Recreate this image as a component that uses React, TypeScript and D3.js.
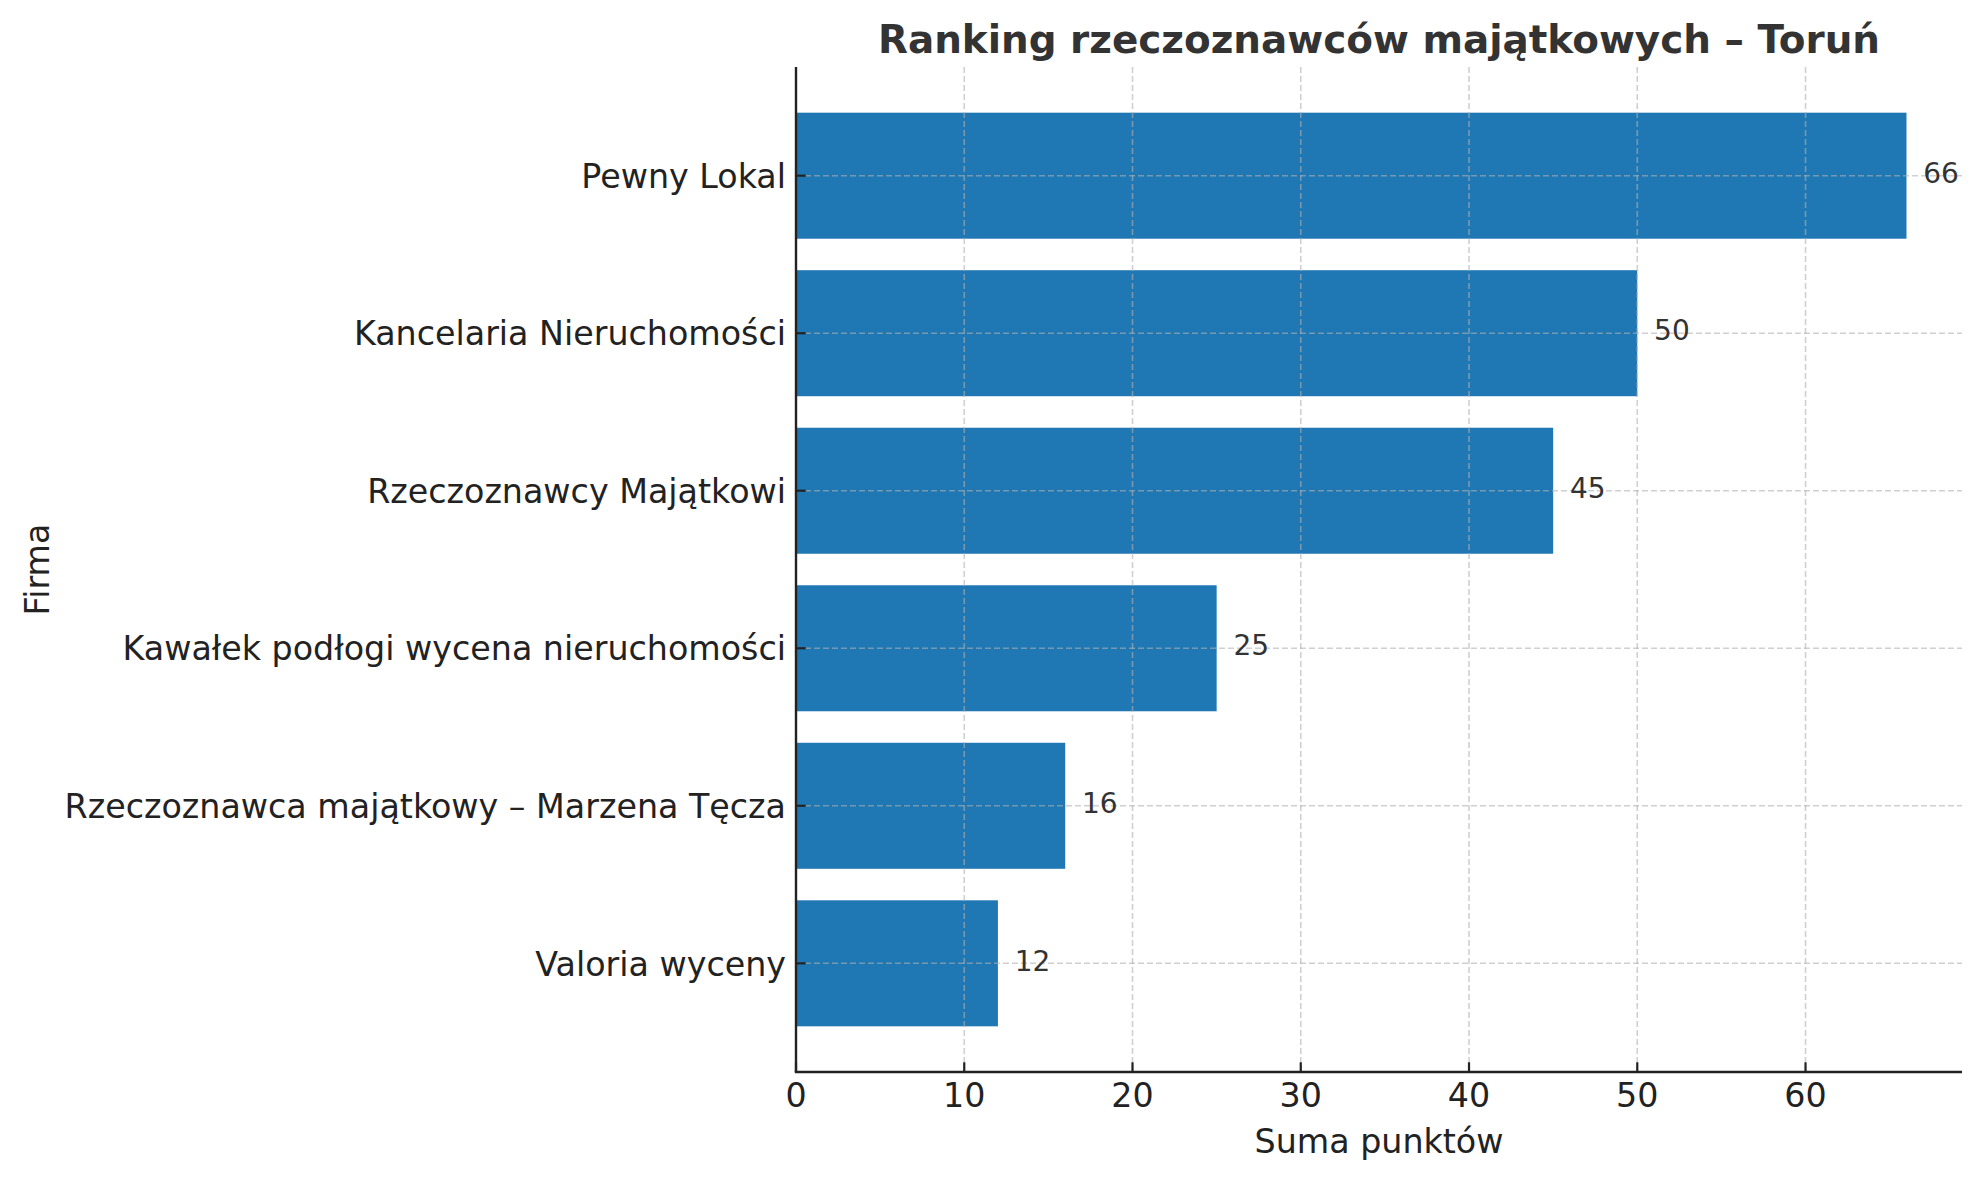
import * as d3 from "d3";
import { useEffect, useRef } from "react";

const firms = [
  "Pewny Lokal",
  "Kancelaria Nieruchomości",
  "Rzeczoznawcy Majątkowi",
  "Kawałek podłogi wycena nieruchomości",
  "Rzeczoznawca majątkowy – Marzena Tęcza",
  "Valoria wyceny",
];
const points = [66, 50, 45, 25, 16, 12];
const xTicks = [0, 10, 20, 30, 40, 50, 60];

const title = "Ranking rzeczoznawców majątkowych – Toruń";
const xLabel = "Suma punktów";
const yLabel = "Firma";

const App = () => {
  const ref = useRef<SVGSVGElement | null>(null);

  useEffect(() => {
    if (!ref.current) return;
    document.body.style.margin = "0";

    const svg = d3.select(ref.current);
    svg.selectAll("*").remove();

    const width = 1980;
    const height = 1180;
    const margin = { top: 67, right: 18, bottom: 108, left: 796 };
    const font = "DejaVu Sans, sans-serif";

    svg.attr("width", width).attr("height", height).style("background", "#fff");

    const maxVal = d3.max(points)!;
    const x = d3
      .scaleLinear()
      .domain([0, maxVal * 1.05])
      .range([margin.left, width - margin.right]);

    const y = d3
      .scaleBand<string>()
      .domain(firms)
      .range([margin.top, height - margin.bottom])
      .paddingInner(0.2)
      .paddingOuter(0.29);

    const data = firms.map((f, i) => ({ firm: f, value: points[i] }));
    const yBottom = height - margin.bottom;
    const yTop = margin.top;

    // Bars
    svg
      .append("g")
      .selectAll("rect")
      .data(data)
      .enter()
      .append("rect")
      .attr("x", x(0))
      .attr("y", (d) => y(d.firm)!)
      .attr("width", (d) => x(d.value) - x(0))
      .attr("height", y.bandwidth())
      .attr("fill", "#1f77b4");

    // Grid (above bars, like matplotlib)
    const grid = svg
      .append("g")
      .attr("stroke", "#b0b0b0")
      .attr("stroke-opacity", 0.6)
      .attr("stroke-width", 1.6)
      .attr("stroke-dasharray", "6,3");

    grid
      .selectAll("line.vgrid")
      .data(xTicks)
      .enter()
      .append("line")
      .attr("class", "vgrid")
      .attr("x1", (d) => x(d))
      .attr("x2", (d) => x(d))
      .attr("y1", yTop)
      .attr("y2", yBottom);

    grid
      .selectAll("line.hgrid")
      .data(firms)
      .enter()
      .append("line")
      .attr("class", "hgrid")
      .attr("x1", x.range()[0])
      .attr("x2", x.range()[1])
      .attr("y1", (d) => y(d)! + y.bandwidth() / 2)
      .attr("y2", (d) => y(d)! + y.bandwidth() / 2);

    // Spines
    svg
      .append("line")
      .attr("x1", x.range()[0])
      .attr("x2", x.range()[0])
      .attr("y1", yTop)
      .attr("y2", yBottom)
      .attr("stroke", "#222")
      .attr("stroke-width", 2.4);
    svg
      .append("line")
      .attr("x1", x.range()[0] - 1.2)
      .attr("x2", x.range()[1])
      .attr("y1", yBottom)
      .attr("y2", yBottom)
      .attr("stroke", "#222")
      .attr("stroke-width", 2.4);

    // X ticks (inward) and labels
    const xAxis = svg.append("g");
    xAxis
      .selectAll("line")
      .data(xTicks)
      .enter()
      .append("line")
      .attr("x1", (d) => x(d))
      .attr("x2", (d) => x(d))
      .attr("y1", yBottom)
      .attr("y2", yBottom - 9.7)
      .attr("stroke", "#222")
      .attr("stroke-width", 2.2);
    xAxis
      .selectAll("text")
      .data(xTicks)
      .enter()
      .append("text")
      .text((d) => d.toString())
      .attr("x", (d) => x(d))
      .attr("y", 1107)
      .attr("text-anchor", "middle")
      .style("font-family", font)
      .style("font-size", "33.3px")
      .style("fill", "#222");

    // Y ticks (inward) and labels
    const yAxis = svg.append("g");
    yAxis
      .selectAll("line")
      .data(firms)
      .enter()
      .append("line")
      .attr("x1", x.range()[0])
      .attr("x2", x.range()[0] + 9.7)
      .attr("y1", (d) => y(d)! + y.bandwidth() / 2)
      .attr("y2", (d) => y(d)! + y.bandwidth() / 2)
      .attr("stroke", "#222")
      .attr("stroke-width", 2.2);
    yAxis
      .selectAll("text")
      .data(firms)
      .enter()
      .append("text")
      .text((d) => d)
      .attr("x", x.range()[0] - 10)
      .attr("y", (d) => y(d)! + y.bandwidth() / 2 + 12.2)
      .attr("text-anchor", "end")
      .style("font-family", font)
      .style("font-size", "33.3px")
      .style("fill", "#222");

    // Value labels
    svg
      .append("g")
      .selectAll("text")
      .data(data)
      .enter()
      .append("text")
      .text((d) => d.value.toString())
      .attr("x", (d) => x(d.value + 1))
      .attr("y", (d) => y(d.firm)! + y.bandwidth() / 2 + 7.2)
      .style("font-family", font)
      .style("font-size", "28px")
      .style("fill", "#333");

    // Title
    svg
      .append("text")
      .text(title)
      .attr("x", (x.range()[0] + x.range()[1]) / 2)
      .attr("y", 53)
      .attr("text-anchor", "middle")
      .style("font-family", font)
      .style("font-size", "38.9px")
      .style("font-weight", "bold")
      .style("fill", "#333");

    // Axis labels
    svg
      .append("text")
      .text(xLabel)
      .attr("x", (x.range()[0] + x.range()[1]) / 2)
      .attr("y", 1153)
      .attr("text-anchor", "middle")
      .style("font-family", font)
      .style("font-size", "33.3px")
      .style("fill", "#222");

    svg
      .append("text")
      .text(yLabel)
      .attr("transform", `translate(49,${(yTop + yBottom) / 2}) rotate(-90)`)
      .attr("text-anchor", "middle")
      .style("font-family", font)
      .style("font-size", "33.3px")
      .style("fill", "#222");
  }, []);

  return <svg ref={ref}></svg>;
};

export default App;
